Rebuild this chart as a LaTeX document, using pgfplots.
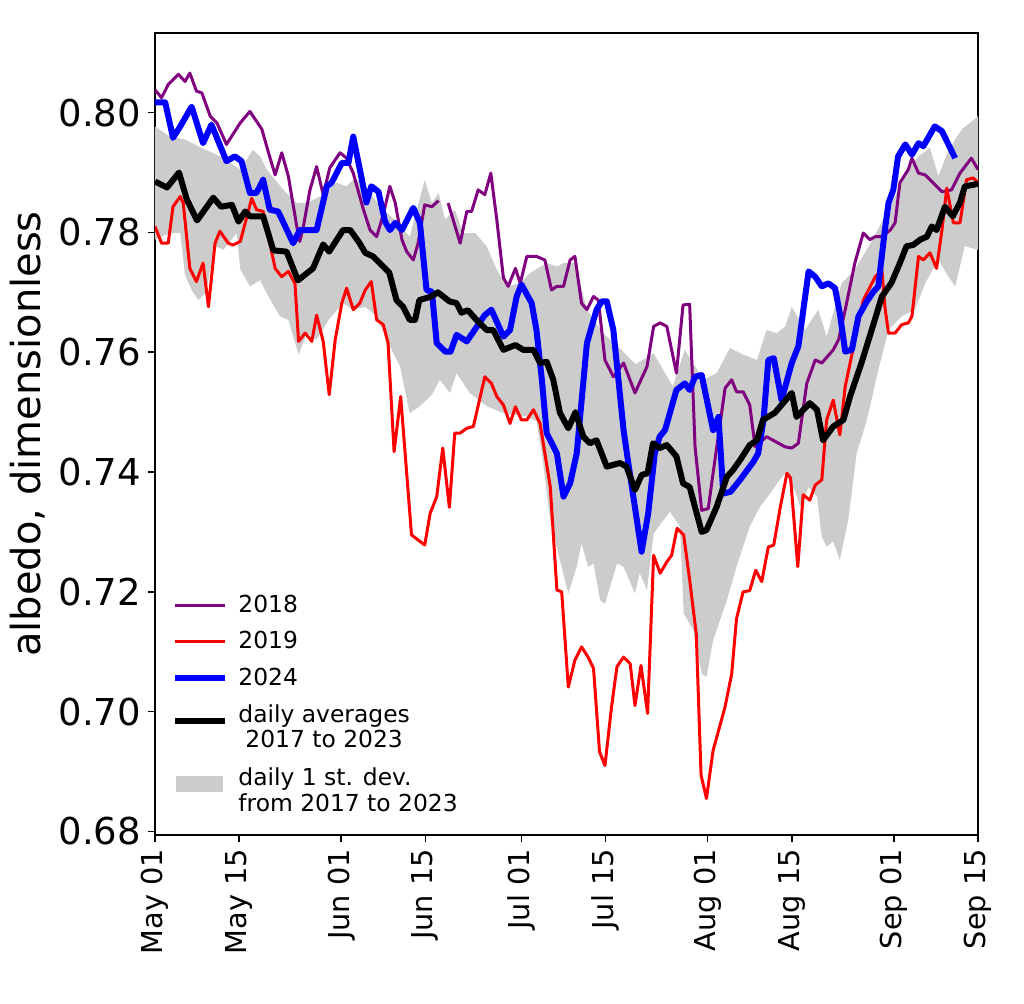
\documentclass[border=0pt]{standalone}
\usepackage{fontspec}
\setmainfont{DejaVu Sans}
\usepackage{pgfplots}
\pgfplotsset{compat=1.18}
\usepgfplotslibrary{fillbetween}
\definecolor{mplpurple}{RGB}{128,0,128}
\definecolor{bandgray}{RGB}{204,204,204}
\begin{document}
\begin{tikzpicture}
\begin{axis}[
  scale only axis, width=411.5pt, height=401pt,
  xmin=0, xmax=137, ymin=0.6794, ymax=0.8133,
  axis line style={line width=0.8pt},
  tick align=outside, tick pos=left, major tick length=3.5pt,
  every tick/.style={black, line width=0.8pt},
  xtick={0,14,31,45,61,75,92,106,123,137},
  xticklabels={May 01,May 15,Jun 01,Jun 15,Jul 01,Jul 15,Aug 01,Aug 15,Sep 01,Sep 15},
  xticklabel style={rotate=90, anchor=east, font=\fontsize{14.4}{17}\selectfont},
  ytick={0.68,0.70,0.72,0.74,0.76,0.78,0.80},
  scaled y ticks=false,
  yticklabel style={font=\fontsize{18.5}{22}\selectfont,
    /pgf/number format/fixed, /pgf/number format/fixed zerofill,
    /pgf/number format/precision=2, /pgf/number format/assume math mode=true},
  ylabel={albedo, dimensionless},
  ylabel style={font=\fontsize{20}{24}\selectfont},
  unbounded coords=jump,
  legend cell align=left,
  legend style={at={(0,0)}, anchor=south west, xshift=8.5pt, yshift=17.5pt,
    draw=none, fill=none, inner sep=0pt,
    font=\fontsize{11.7}{12.5}\selectfont, row sep=4pt},
  legend image code/.code={\path[draw=none] (0pt,0pt) -- (29.5pt,0pt); \draw[#1, line cap=butt] (0pt,0pt) -- (25pt,0pt);},
]
\coordinate (SW) at (rel axis cs:0,0);
\coordinate (NE) at (rel axis cs:1,1);
% std band
\addplot[name path=upper, draw=none, forget plot] coordinates {
(0,0.7977)(1,0.797)(2.5,0.796)(5,0.7955)(8,0.794)(11.3,0.7925)(14.2,0.7905)(16.3,0.7938)(17.5,0.7927)(18.6,0.7905)(21.4,0.7871)(23.6,0.7849)(25.3,0.7849)(27.5,0.786)(30.2,0.7883)(31.9,0.7877)(33.3,0.7891)(35,0.7877)(37.5,0.7843)(40,0.782)(42.4,0.7793)(44.9,0.7888)(46.1,0.7849)(47.2,0.7866)(48.3,0.7821)(49.9,0.7838)(51.3,0.7799)(53.3,0.7799)(55.2,0.7777)(56.9,0.7738)(58.5,0.771)(60.8,0.7715)(62.4,0.7732)(65.2,0.7749)(66.9,0.7743)(68,0.7749)(69.9,0.7749)(71.9,0.7671)(74.6,0.7632)(77,0.761)(80,0.758)(83,0.7598)(86.2,0.7543)(88.2,0.7604)(91.3,0.7554)(93.5,0.7565)(95.7,0.7607)(97.9,0.7596)(100.2,0.7587)(101.8,0.7637)(103.5,0.7632)(104.9,0.7643)(106,0.7676)(108.2,0.7637)(110.4,0.7671)(111.8,0.7626)(114.3,0.7715)(116.5,0.7738)(119,0.778)(121.5,0.7827)(123.2,0.786)(125.4,0.7905)(127.1,0.7927)(129,0.7941)(130.4,0.7894)(132.1,0.7938)(134.3,0.7972)(137,0.7994)
};
\addplot[name path=lower, draw=none, forget plot] coordinates {
(0,0.7788)(2.5,0.7799)(4.2,0.7799)(5,0.7729)(6.1,0.7704)(7.2,0.7687)(8.5,0.770)(10,0.7777)(11.4,0.7771)(13.6,0.7799)(14.2,0.7738)(15.8,0.771)(17.5,0.772)(18.9,0.7693)(20.8,0.766)(22.2,0.7654)(23.9,0.7596)(25.3,0.7632)(26.9,0.7621)(28.9,0.7654)(31.3,0.7682)(33,0.7671)(35,0.7676)(36.9,0.766)(39.1,0.761)(40.8,0.7576)(42.4,0.7498)(44.1,0.751)(46.1,0.7529)(47.4,0.7554)(49.1,0.7532)(50.2,0.7565)(52.4,0.7532)(55.2,0.751)(58,0.7498)(61.9,0.7493)(63.5,0.7485)(64.4,0.7431)(65.8,0.732)(67.4,0.7253)(68.8,0.7197)(70.2,0.7242)(71,0.7281)(72.1,0.7242)(73,0.7247)(74.1,0.7186)(74.9,0.718)(76.9,0.7247)(78,0.7242)(79.9,0.7197)(80.7,0.7231)(81.9,0.7203)(83,0.7297)(85.7,0.7334)(87.4,0.7309)(88,0.7164)(89.6,0.7136)(91,0.7063)(91.8,0.7058)(92.9,0.7119)(95.2,0.7186)(96.8,0.7242)(99,0.7309)(100.7,0.7342)(102.4,0.7364)(104,0.7387)(104.9,0.7398)(106.5,0.737)(107.4,0.7342)(108.8,0.7375)(110.2,0.7359)(111,0.7292)(111.8,0.7275)(112.9,0.7284)(114,0.7253)(115.4,0.732)(116.8,0.7431)(118.5,0.7487)(120.4,0.757)(122.1,0.7637)(124.3,0.766)(126.5,0.7671)(128.2,0.7715)(130.4,0.7754)(132.1,0.7726)(133.2,0.771)(134.8,0.7777)(137,0.7771)
};
\addplot[bandgray, draw=none, forget plot] fill between[of=upper and lower];
% 2018
\addplot[mplpurple, line width=1.5pt, line join=round] coordinates {
(0,0.8038)(1.1,0.8025)(2.2,0.8047)(3.9,0.8064)(5,0.8052)(5.8,0.8066)(6.9,0.8036)(7.8,0.8033)(9.2,0.7994)(10.3,0.7983)(11.9,0.7947)(14.2,0.7983)(15.8,0.8002)(17.8,0.7972)(18.9,0.7933)(20,0.7896)(21.1,0.7933)(22.2,0.7894)(23.6,0.781)(24.1,0.7785)(24.7,0.781)(25.8,0.7871)(26.9,0.791)(28,0.7863)(29.1,0.7908)(30.8,0.7933)(31.9,0.7924)(33,0.7899)(34.7,0.7838)(35.8,0.7804)(36.9,0.7793)(38,0.783)(39.1,0.7877)(40,0.7849)(41.1,0.7788)(41.9,0.7768)(43,0.7754)(43.8,0.7782)(44.9,0.7846)(46.1,0.7843)(47.2,0.7853)(47.9,nan)(48.8,0.7849)(50.8,0.7782)(51.9,0.7835)(52.7,0.7835)(53.8,0.7871)(54.9,0.7863)(55.9,0.7899)(56.9,0.7821)(58,0.7724)(58.8,0.771)(60,0.774)(60.8,0.7715)(61.9,0.776)(63.5,0.776)(64.9,0.7754)(66,0.7704)(66.9,0.771)(68,0.771)(69.1,0.7754)(69.9,0.776)(71,0.7682)(71.9,0.7671)(73,0.7693)(73.8,0.7687)(74.9,0.7587)(76.3,0.7559)(78,0.7582)(79.9,0.7532)(81.9,0.7576)(83,0.7643)(84.1,0.7649)(85.2,0.7643)(86.8,0.7565)(87.9,0.7679)(89,0.768)(89.9,0.7442)(91,0.7336)(92.1,0.7339)(92.9,0.7398)(94.9,0.754)(96,0.7554)(96.8,0.7534)(97.9,0.7534)(99,0.7512)(99.9,0.7442)(101.8,0.7459)(104.9,0.7442)(106,0.744)(107.1,0.7448)(107.4,0.747)(108.5,0.7548)(109.9,0.7587)(111,0.7582)(112.9,0.7604)(113.8,0.7621)(114.9,0.7671)(116.5,0.7749)(117.9,0.7799)(119,0.7788)(119.9,0.7793)(121,0.7793)(122.4,0.7804)(123.2,0.7816)(124,0.7883)(125.4,0.7905)(126,0.7924)(127.1,0.7899)(128.2,0.7896)(129.3,0.7885)(131,0.7868)(132.6,0.7871)(134,0.7899)(135.9,0.7924)(137,0.7905)
};
\addlegendentry{2018}
% 2019
\addplot[red, line width=1.5pt, line join=round] coordinates {
(0,0.781)(1.1,0.7782)(2.2,0.7782)(3,0.7843)(4.2,0.786)(4.7,0.7849)(5.8,0.774)(6.9,0.7718)(8,0.7749)(8.9,0.7676)(10,0.7782)(10.8,0.7802)(12.2,0.7782)(13,0.7779)(14.2,0.7785)(16.1,0.7857)(16.9,0.7838)(18,0.7835)(20,0.774)(21.1,0.7726)(22.2,0.7735)(23.3,0.7715)(23.9,0.7618)(25,0.7632)(26.1,0.7618)(26.9,0.7662)(28,0.7618)(29,0.7529)(30,0.7621)(31.1,0.7682)(31.9,0.7707)(33,0.7671)(34.1,0.7682)(35,0.7704)(36,0.7718)(36.9,0.7654)(38,0.7646)(38.8,0.7615)(39.8,0.7434)(40.9,0.7526)(42.7,0.7295)(44.9,0.7278)(45.8,0.7331)(46.9,0.7359)(47.9,0.744)(49,0.7341)(49.9,0.7465)(50.8,0.7465)(51.9,0.7473)(53,0.7476)(54.9,0.7559)(56,0.7548)(56.9,0.7526)(58,0.7512)(59.1,0.7481)(60,0.7509)(61,0.7487)(61.9,0.7487)(63,0.7504)(64.1,0.7481)(65.8,0.7375)(66.9,0.7203)(67.7,0.72)(68.8,0.7041)(69.9,0.7086)(71,0.7108)(72.1,0.7091)(73,0.7072)(74,0.6933)(74.9,0.691)(76,0.7008)(76.9,0.7075)(78,0.7091)(79.1,0.708)(79.9,0.701)(80.9,0.7077)(82,0.6997)(83,0.7261)(84.1,0.7231)(85.2,0.725)(86,0.7261)(86.9,0.7306)(88,0.7295)(89,0.722)(90.1,0.713)(90.9,0.6894)(91.8,0.6855)(92.9,0.6935)(94.9,0.7008)(96,0.7063)(96.8,0.7155)(97.9,0.72)(99,0.7202)(100,0.7236)(101,0.7217)(102.1,0.7275)(103,0.7278)(104.1,0.7342)(105.2,0.7398)(105.8,0.739)(107,0.7242)(107.9,0.7362)(109,0.7353)(109.9,0.7378)(111,0.7387)(111.8,0.7487)(112.9,0.752)(114,0.7462)(114.9,0.7543)(116.3,0.761)(117.9,0.7687)(119.9,0.7726)(121,0.7738)(121.5,0.7676)(122.1,0.7632)(123.2,0.7632)(124.3,0.7646)(125.4,0.7649)(126,0.766)(127.1,0.776)(127.9,0.7754)(129,0.7766)(130.1,0.774)(131,0.7804)(131.8,0.7874)(132.9,0.7816)(134,0.7816)(135.1,0.7888)(136.2,0.7891)(137,0.7883)
};
\addlegendentry{2019}
% 2024
\addplot[blue, line width=3pt, line join=round] coordinates {
(0,0.8017)(1.7,0.8017)(3,0.7958)(4.2,0.7977)(6.1,0.801)(8,0.7949)(9.4,0.798)(11.9,0.7919)(13.3,0.7927)(14.4,0.7919)(15.8,0.7866)(16.9,0.7866)(18,0.7888)(19.1,0.7838)(20.5,0.7835)(23,0.7782)(24.1,0.7804)(26.9,0.7804)(28.6,0.7877)(29.4,0.7883)(31.1,0.7916)(32.2,0.7916)(33,0.796)(35.2,0.785)(36,0.7877)(37.2,0.7868)(38.3,0.7818)(39.1,0.7804)(40,0.7816)(41.1,0.7804)(43,0.7841)(44.1,0.7816)(45.2,0.7704)(46.1,0.7701)(46.9,0.7615)(48.3,0.7601)(49.2,0.7601)(50.2,0.7629)(51.9,0.7618)(53.6,0.7643)(54.9,0.7662)(56,0.7671)(58,0.7626)(59.1,0.7637)(60.2,0.7693)(61,0.7713)(62.7,0.7682)(63.5,0.7637)(64.4,0.7554)(65.2,0.7465)(66.9,0.7431)(68,0.7359)(69.1,0.7381)(70.2,0.7431)(71.9,0.7615)(73.5,0.7671)(74.4,0.7685)(75.2,0.7685)(76.3,0.7637)(78,0.747)(78.8,0.7414)(81,0.7267)(82.1,0.7331)(83.2,0.7431)(84,0.7459)(84.9,0.747)(86.8,0.7537)(88.2,0.7548)(89,0.7537)(89.9,0.7559)(91,0.7562)(92.9,0.747)(93.8,0.7492)(94.6,0.7364)(95.8,0.7367)(97.4,0.7387)(99.6,0.7417)(100.4,0.7431)(101.3,0.7487)(102.1,0.7587)(103,0.759)(104.3,0.752)(106,0.7582)(107.1,0.761)(108.8,0.7735)(109.9,0.7726)(111,0.771)(112.1,0.7715)(113.2,0.7707)(114,0.7665)(114.9,0.7601)(116,0.7604)(117.1,0.766)(118.5,0.7685)(119.6,0.7701)(120.4,0.771)(121.5,0.7804)(122.1,0.7849)(122.9,0.7871)(123.7,0.7927)(124.9,0.7947)(126,0.793)(127.1,0.7949)(127.9,0.7944)(129.8,0.7977)(131,0.7969)(133.2,0.7924)
};
\addlegendentry{2024}
% average
\addplot[black, line width=3pt, line join=round] coordinates {
(0,0.7885)(2,0.7875)(4,0.790)(5.3,0.7855)(7,0.782)(9.7,0.7858)(11,0.7843)(12.8,0.7846)(13.9,0.7818)(15,0.7835)(15.8,0.7827)(18,0.7827)(19.7,0.777)(21.9,0.7768)(23.8,0.772)(26.3,0.774)(28,0.778)(29,0.7768)(31.3,0.7804)(32.5,0.7804)(34,0.7783)(35,0.7766)(36.3,0.776)(39,0.7733)(40.2,0.7687)(41.3,0.7676)(42.4,0.7654)(43.3,0.7654)(44,0.7687)(46,0.7693)(47.1,0.770)(49,0.7685)(50.2,0.7682)(51,0.7666)(52.1,0.767)(53.5,0.7654)(55.2,0.7637)(56.3,0.7637)(58,0.7604)(60,0.7612)(61.3,0.7604)(63,0.7604)(64.1,0.7582)(65.2,0.7584)(66.3,0.7554)(67.4,0.7499)(68.8,0.7473)(70,0.750)(71.3,0.7459)(72.4,0.7448)(73.5,0.7453)(75.2,0.7409)(77.4,0.7415)(78.5,0.7409)(79.9,0.737)(81,0.7395)(82,0.7398)(82.9,0.7448)(84,0.744)(85.2,0.7445)(86.8,0.7426)(87.9,0.7381)(89,0.7375)(91,0.730)(91.8,0.7303)(93.5,0.7342)(95.2,0.7392)(96.2,0.7403)(97.4,0.742)(99,0.7445)(100.2,0.7453)(101.2,0.7487)(103.2,0.7499)(106,0.7532)(106.8,0.7492)(109,0.7515)(110.2,0.7504)(111.2,0.7453)(112.9,0.7476)(114.6,0.7487)(115.7,0.7526)(117.6,0.7582)(119.3,0.7637)(121,0.7693)(122.6,0.7716)(124,0.7749)(125.1,0.7777)(126.2,0.7779)(127.4,0.7788)(128.5,0.7793)(129.3,0.781)(130.1,0.7804)(131.5,0.7843)(132.8,0.7827)(134,0.785)(134.8,0.7877)(136.5,0.788)(137,0.7882)
};
\addlegendentry{\begin{tabular}{@{}l@{}}daily averages\\\hspace{0.3em}2017 to 2023\end{tabular}}
\addlegendimage{legend image code/.code={\path[draw=none] (0pt,0pt) -- (29.5pt,0pt); \fill[bandgray, draw=none] (0.5pt,-8.5pt) rectangle (24pt,-0.5pt);}}
\addlegendentry{\begin{tabular}{@{}l@{}}\rule{0pt}{15.75pt}daily 1 st. dev.\\from 2017 to 2023\end{tabular}}
\end{axis}
\path ([xshift=-77.5pt,yshift=-84.5pt]SW) rectangle ([xshift=23pt,yshift=16.5pt]NE);
\end{tikzpicture}
\end{document}
